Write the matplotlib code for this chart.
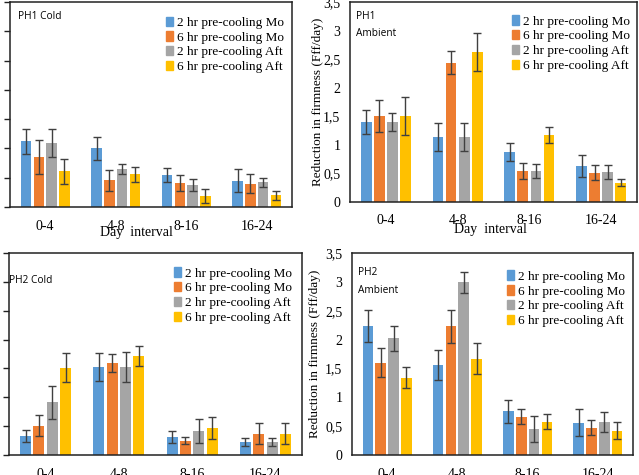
import matplotlib
matplotlib.use("Agg")
import matplotlib.pyplot as plt
import matplotlib.ticker as mticker
from matplotlib.patches import Patch
import numpy as np

# day intervals and series
intervals = ["0-4", "4-8", "8-16", "16-24"]
series = ["2 hr pre-cooling Mo", "6 hr pre-cooling Mo",
          "2 hr pre-cooling Aft", "6 hr pre-cooling Aft"]
colors = ["#5B9BD5", "#ED7D31", "#A5A5A5", "#FFC000"]

# PH1 cold: rows = series, cols = intervals
ph1_cold = [[1.12, 1.00, 0.55, 0.45],
            [0.86, 0.46, 0.41, 0.40],
            [1.09, 0.65, 0.38, 0.42],
            [0.61, 0.56, 0.19, 0.20]]
ph1_cold_err = [[0.22, 0.20, 0.12, 0.20],
                [0.29, 0.18, 0.14, 0.16],
                [0.24, 0.08, 0.10, 0.07],
                [0.21, 0.13, 0.12, 0.08]]

ph1_amb = [[1.40, 1.14, 0.88, 0.63],
           [1.51, 2.44, 0.55, 0.51],
           [1.40, 1.14, 0.54, 0.53],
           [1.50, 2.63, 1.17, 0.34]]
ph1_amb_err = [[0.21, 0.24, 0.16, 0.20],
               [0.28, 0.20, 0.14, 0.13],
               [0.16, 0.24, 0.12, 0.12],
               [0.33, 0.33, 0.14, 0.06]]

ph2_cold = [[0.33, 1.53, 0.31, 0.22],
            [0.51, 1.59, 0.25, 0.37],
            [0.91, 1.53, 0.42, 0.22],
            [1.51, 1.72, 0.47, 0.37]]
ph2_cold_err = [[0.10, 0.24, 0.10, 0.07],
                [0.18, 0.16, 0.06, 0.18],
                [0.29, 0.26, 0.21, 0.07],
                [0.25, 0.17, 0.19, 0.18]]

ph2_amb = [[2.23, 1.56, 0.76, 0.56],
           [1.60, 2.23, 0.66, 0.47],
           [2.02, 2.99, 0.45, 0.57],
           [1.34, 1.67, 0.58, 0.42]]
ph2_amb_err = [[0.28, 0.26, 0.20, 0.23],
               [0.25, 0.29, 0.13, 0.13],
               [0.21, 0.18, 0.23, 0.17],
               [0.18, 0.27, 0.13, 0.15]]

W, H = 639, 475
fig = plt.figure(figsize=(W / 100, H / 100), dpi=100)
plt.rcParams['font.family'] = 'Liberation Serif'


def px_axes(left, top, right, bottom):
    return fig.add_axes([left / W, (H - bottom) / H, (right - left) / W, (bottom - top) / H])


def comma_fmt(v, pos):
    s = ("%g" % v)
    return s.replace(".", ",")


def draw_panel(ax, vals, errs, label, leg_anchor, show_labels):
    x = np.arange(len(intervals))
    step = 0.182
    width = 0.15
    for i in range(len(series)):
        off = (i - 1.5) * step
        ax.bar(x + off, vals[i], width, color=colors[i], yerr=errs[i],
               error_kw=dict(ecolor="#404040", elinewidth=1, capsize=3, capthick=1))
    ax.set_xlim(-0.5, 3.5)
    ax.set_ylim(0, 3.5)
    ax.set_xticks(x)
    ax.set_xticklabels(intervals, fontsize=10)
    ax.set_yticks(np.arange(0, 3.51, 0.5))
    ax.yaxis.set_major_formatter(mticker.FuncFormatter(comma_fmt))
    ax.tick_params(axis='x', length=0, pad=9)
    if show_labels:
        ax.tick_params(axis='y', length=0, pad=7, labelsize=10)
    else:
        # the left panels are cropped: only the outward tick marks remain
        ax.tick_params(axis='y', length=4, width=1, color="#222222",
                       direction='out', labelleft=False)
    for sp in ax.spines.values():
        sp.set_linewidth(1.1)
        sp.set_color("#222222")
    handles = [Patch(color=c) for c in colors]
    ax.legend(handles, series, loc="upper right", bbox_to_anchor=leg_anchor,
              frameon=False, fontsize=9.5, handlelength=0.55, handleheight=0.7,
              handletextpad=0.3, labelspacing=0.2, borderaxespad=0)
    ax.text(label[0], label[1], label[2], transform=ax.transAxes,
            family="Open Sans", fontsize=7.3, va="top", ha="left", linespacing=1.8)


ax1 = px_axes(10, 2, 292, 207)
draw_panel(ax1, ph1_cold, ph1_cold_err, (0.03, 0.955, "PH1 Cold"), (0.99, 0.955), False)
ax1.set_xlabel("Day  interval", fontsize=10)
ax1.xaxis.set_label_coords(0.45, -0.122)
ax1.xaxis.label.set_va("center")

ax2 = px_axes(350, 2, 637, 202)
draw_panel(ax2, ph1_amb, ph1_amb_err, (0.02, 0.955, "PH1\nAmbient"), (0.995, 0.96), True)
ax2.set_xlabel("Day  interval", fontsize=10)
ax2.xaxis.set_label_coords(0.491, -0.14)
ax2.xaxis.label.set_va("center")
ax2.set_ylabel("Reduction in firmness (Fff/day)", fontsize=9.5)
ax2.yaxis.set_label_coords(-0.111, 0.5)
ax2.yaxis.label.set_va("center")

ax3 = px_axes(9, 253, 302, 455)
draw_panel(ax3, ph2_cold, ph2_cold_err, (0.0, 0.89, "PH2 Cold"), (0.985, 0.955), False)

ax4 = px_axes(352, 253, 633, 455)
draw_panel(ax4, ph2_amb, ph2_amb_err, (0.02, 0.93, "PH2\nAmbient"), (0.99, 0.94), True)
ax4.set_ylabel("Reduction in firmness (Fff/day)", fontsize=9.5)
ax4.yaxis.set_label_coords(-0.132, 0.5)
ax4.yaxis.label.set_va("center")

fig.savefig("out.png", dpi=100)
